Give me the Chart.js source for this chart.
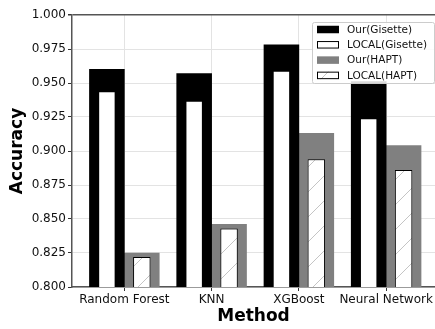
<!DOCTYPE html>
<html>
<head>
<meta charset="utf-8">
<script src="https://cdn.jsdelivr.net/npm/chart.js@4.4.1/dist/chart.umd.min.js"></script>
<style>
  html, body { margin: 0; padding: 0; background: #fff; }
  #wrap { width: 435px; height: 329px; }
</style>
</head>
<body>
<div id="wrap"><canvas id="accChart" width="435" height="329"></canvas></div>
<script>
// Accuracy per classifier: our method vs LOCAL on Gisette and HAPT
const categories = ['Random Forest', 'KNN', 'XGBoost', 'Neural Network'];
const ourGisette = [0.960, 0.957, 0.978, 0.951];
const localGisette = [0.944, 0.937, 0.959, 0.924];
const ourHapt = [0.825, 0.846, 0.913, 0.904];
const localHapt = [0.822, 0.843, 0.894, 0.886];
const yMin = 0.8, yMax = 1.0, yStep = 0.025;

const FONT = 'DejaVu Sans';
const GRAY = '#808080';

// diagonal hatch fill for the LOCAL(HAPT) bars
function makeHatch() {
    const s = 25;
    const c = document.createElement('canvas');
    c.width = s; c.height = s;
    const g = c.getContext('2d');
    g.fillStyle = '#fff';
    g.fillRect(0, 0, s, s);
    g.strokeStyle = '#c4c4c4';
    g.lineWidth = 1;
    g.beginPath();
    g.moveTo(-1, s + 1); g.lineTo(s + 1, -1);
    g.moveTo(-2, 2); g.lineTo(2, -2);
    g.moveTo(s - 2, s + 2); g.lineTo(s + 2, s - 2);
    g.stroke();
    return g.createPattern(c, 'repeat');
}
const hatch = makeHatch();

// place each series left (Gisette) or right (HAPT) of the category tick
const toPoints = (vals, shift) => vals.map((v, i) => ({ x: i + shift, y: v }));

const datasets = [
    { label: 'Our(Gisette)', data: toPoints(ourGisette, -0.2), backgroundColor: '#000',
      borderWidth: 0, barPercentage: 1, order: 1 },
    { label: 'LOCAL(Gisette)', data: toPoints(localGisette, -0.2), backgroundColor: '#fff',
      borderColor: '#000', borderWidth: 1, barPercentage: 0.5, order: 0 },
    { label: 'Our(HAPT)', data: toPoints(ourHapt, 0.2), backgroundColor: GRAY,
      borderWidth: 0, barPercentage: 1, order: 1 },
    { label: 'LOCAL(HAPT)', data: toPoints(localHapt, 0.2), backgroundColor: hatch,
      borderColor: '#000', borderWidth: 1, barPercentage: 0.5, order: 0 }
];

// legend box inside the plot, top right
const boxLegend = {
    id: 'boxLegend',
    afterDatasetsDraw(chart) {
        const { ctx, chartArea } = chart;
        const w = 122, h = 61;
        const x = chartArea.right - w - 1, y = chartArea.top + 7;
        ctx.save();
        ctx.beginPath();
        ctx.roundRect(x + 0.5, y + 0.5, w, h, 2);
        ctx.fillStyle = 'rgba(255,255,255,0.85)';
        ctx.fill();
        ctx.strokeStyle = '#cccccc';
        ctx.lineWidth = 1;
        ctx.stroke();
        ctx.font = '10.5px "' + FONT + '"';
        ctx.textBaseline = 'middle';
        chart.data.datasets.forEach((ds, i) => {
            const cy = y + 7.5 + i * 15.3;
            const sx = x + 5, sw = 22, sh = 7.5;
            ctx.fillStyle = ds.backgroundColor;
            ctx.fillRect(sx, cy - sh / 2, sw, sh);
            if (ds.borderWidth) {
                ctx.strokeStyle = ds.borderColor;
                ctx.lineWidth = 1;
                ctx.strokeRect(sx + 0.5, cy - sh / 2 + 0.5, sw - 1, sh - 1);
            }
            ctx.fillStyle = '#111';
            ctx.fillText(ds.label, x + 35, cy + 0.5);
        });
        ctx.restore();
    }
};

new Chart(document.getElementById('accChart'), {
    type: 'bar',
    data: { datasets },
    options: {
        responsive: false,
        devicePixelRatio: 1,
        animation: false,
        grouped: false,
        categoryPercentage: 1,
        layout: { padding: { top: 15, right: 0, bottom: 0, left: 0 } },
        plugins: {
            legend: { display: false },
            tooltip: { enabled: false }
        },
        scales: {
            x: {
                type: 'linear',
                min: -0.6,
                max: 3.56,
                offset: false,
                afterFit: s => { s.height = 42; },
                grid: { offset: false, color: '#e3e3e3', lineWidth: 1, tickLength: 4, tickColor: '#333' },
                border: { color: '#555', width: 1.5 },
                ticks: {
                    stepSize: 1,
                    includeBounds: false,
                    autoSkip: false,
                    maxRotation: 0,
                    padding: 2,
                    color: '#111',
                    font: { family: FONT, size: 12 },
                    callback: v => categories[v] ?? ''
                },
                title: {
                    display: true,
                    text: 'Method',
                    color: '#000',
                    padding: { top: 0, bottom: 2 },
                    font: { family: FONT, size: 17, weight: 'bold' }
                }
            },
            y: {
                min: yMin,
                max: yMax,
                afterFit: s => { s.width = 72; },
                grid: {
                    color: c => (c.tick && c.tick.value >= yMax - 1e-9) ? '#555' : '#e3e3e3',
                    lineWidth: c => (c.tick && c.tick.value >= yMax - 1e-9) ? 1.5 : 1,
                    tickLength: 4,
                    tickColor: '#333'
                },
                border: { color: '#555', width: 1.5 },
                ticks: {
                    stepSize: yStep,
                    padding: 2,
                    color: '#111',
                    font: { family: FONT, size: 12 },
                    callback: v => v.toFixed(3)
                },
                title: {
                    display: true,
                    text: 'Accuracy',
                    color: '#000',
                    padding: { top: 7, bottom: 0 },
                    font: { family: FONT, size: 17, weight: 'bold' }
                }
            }
        }
    },
    plugins: [boxLegend]
});
</script>
</body>
</html>
